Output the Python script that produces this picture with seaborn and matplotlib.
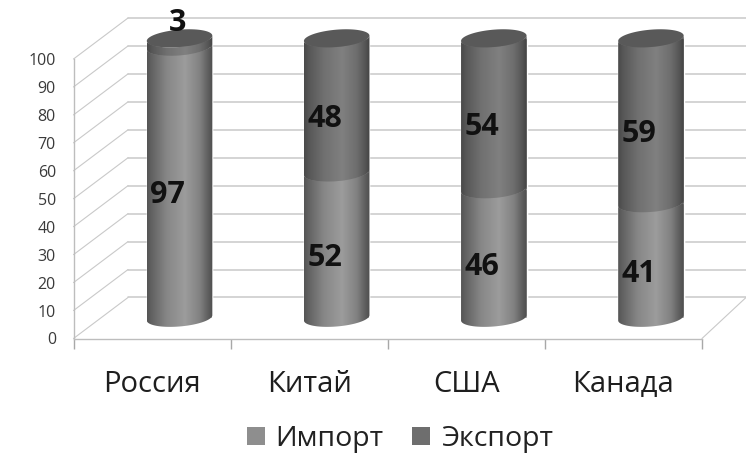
import numpy as np
import pandas as pd
import matplotlib
matplotlib.use("Agg")
import matplotlib.pyplot as plt
from matplotlib.colors import LinearSegmentedColormap
from matplotlib.patches import Patch, Polygon
from matplotlib.path import Path
from matplotlib.transforms import Affine2D
import seaborn as sns

countries = ["Россия", "Китай", "США", "Канада"]
import_share = [97, 52, 46, 41]
export_share = [3, 48, 54, 59]
value_ticks = list(range(0, 101, 10))
legend_labels = ["Импорт", "Экспорт"]

sns.set_theme(style="white")
plt.rcParams["font.family"] = ["Open Sans", "DejaVu Sans"]

W, H = 746, 455
fig = plt.figure(figsize=(W / 100, H / 100), dpi=100, facecolor="white")
ax = fig.add_axes([73.5 / W, (H - 338.5) / H, (702 - 73.5) / W, 279.5 / H])

df = pd.DataFrame({"country": countries, "imp": import_share, "exp": export_share})
df["total"] = df["imp"] + df["exp"]

BAR_W = 0.417
OFF_X, OFF_Y = 0.175, 7.4       # cylinders stand mid-way in depth
WALL_X, WALL_Y = 0.347, 14.67   # back wall offset
A, B, SHEAR = BAR_W / 2, 3.1, 0.94
GRID = "#c9c9c9"

sns.barplot(data=df, x="country", y="total", order=countries, color="#6e6e6e",
            width=BAR_W, saturation=1, ax=ax, zorder=3)
sns.barplot(data=df, x="country", y="imp", order=countries, color="#8e8e8e",
            width=BAR_W, saturation=1, ax=ax, zorder=3)
shift = Affine2D().translate(OFF_X, OFF_Y) + ax.transData
for p in ax.patches:
    p.set_transform(shift)
    p.set_clip_on(False)

# back wall and side wall
for v in value_ticks:
    ax.plot([-0.5 + WALL_X, 3.79], [v + WALL_Y] * 2, color=GRID, lw=1.1, zorder=1, clip_on=False)
    ax.plot([-0.5, -0.5 + WALL_X], [v, v + WALL_Y], color=GRID, lw=0.8, zorder=1, clip_on=False)
ax.plot([3.5, 3.78], [0, WALL_Y], color=GRID, lw=0.8, zorder=1, clip_on=False)


def lower_arc(cx, yc, reverse=False):
    th = np.linspace(np.pi, 2 * np.pi, 60)
    pts = np.c_[cx + A * np.cos(th), yc + B * np.sin(th) + SHEAR * np.cos(th)]
    return pts[::-1] if reverse else pts


def shade(stops):
    xs = [0, 0.08, 0.3, 0.58, 0.8, 0.93, 1]
    return LinearSegmentedColormap.from_list("s", [(x, (g / 255,) * 3) for x, g in zip(xs, stops)])


cm_imp = shade([85, 100, 135, 156, 130, 95, 78])
cm_exp = shade([74, 88, 112, 128, 110, 86, 68])
ramp = np.linspace(0, 1, 128)[None, :]

for i, (imp, tot) in enumerate(zip(df["imp"], df["total"])):
    cx = i + OFF_X
    for lo, hi, cmap in [(0, imp, cm_imp), (imp, tot, cm_exp)]:
        pts = np.vstack([lower_arc(cx, lo + OFF_Y), lower_arc(cx, hi + OFF_Y, reverse=True)])
        im = ax.imshow(ramp, extent=[cx - A, cx + A, -10, 125], aspect="auto", cmap=cmap,
                       vmin=0, vmax=1, zorder=3.2, interpolation="bilinear")
        im.set_clip_box(fig.bbox)
        im.set_clip_path(Path(pts), transform=ax.transData)
    th = np.linspace(0, 2 * np.pi, 120)
    ax.add_patch(Polygon(np.c_[cx + A * np.cos(th), tot + OFF_Y + B * np.sin(th) + SHEAR * np.cos(th)],
                         closed=True, fc="#595959", ec="none", zorder=3.4, clip_on=False))

# value labels
LX, LY = 0.1, 2.7
for i, (imp, ex) in enumerate(zip(df["imp"], df["exp"])):
    ax.text(i + LX, imp / 2 + LY, str(imp), ha="center", va="center", fontsize=22,
            fontweight="bold", color="#111111", zorder=5)
    extra = 11.6 if ex < 10 else 0
    ax.text(i + LX + (0.06 if ex < 10 else 0), imp + ex / 2 + LY + extra, str(ex), ha="center",
            va="center", fontsize=22, fontweight="bold", color="#111111", zorder=5, clip_on=False)

ax.set_xlim(-0.5, 3.5)
ax.set_ylim(0, 100)
ax.set_xlabel("")
ax.set_ylabel("")
ax.set_yticks(value_ticks)
ax.set_xticks(range(len(countries)))
ax.set_xticklabels(countries)
ax.set_xticks(np.arange(-0.5, 4, 1), minor=True)
ax.tick_params(axis="x", which="major", length=0, pad=23, labelsize=21, labelcolor="#1e1e1e")
ax.tick_params(axis="x", which="minor", length=7, width=1, color="#a8a8a8", bottom=True)
ax.tick_params(axis="y", length=3.6, width=1, color="#a8a8a8", pad=9, labelsize=11.5, labelcolor="#3a3a3a")
for side in ("top", "right"):
    ax.spines[side].set_visible(False)
for side in ("left", "bottom"):
    ax.spines[side].set_color("#bdbdbd")
    ax.spines[side].set_linewidth(1)
ax.patch.set_alpha(0)

handles = [Patch(fc="#8e8e8e", ec="none"), Patch(fc="#6e6e6e", ec="none")]
fig.legend(handles, legend_labels, ncol=2, loc="center", bbox_to_anchor=(400 / W, (H - 439) / H),
           frameon=False, fontsize=20.5, handlelength=0.63, handleheight=0.63, handletextpad=0.39,
           columnspacing=1.0, labelcolor="#222222")

fig.savefig("out.png", dpi=100, facecolor="white")
